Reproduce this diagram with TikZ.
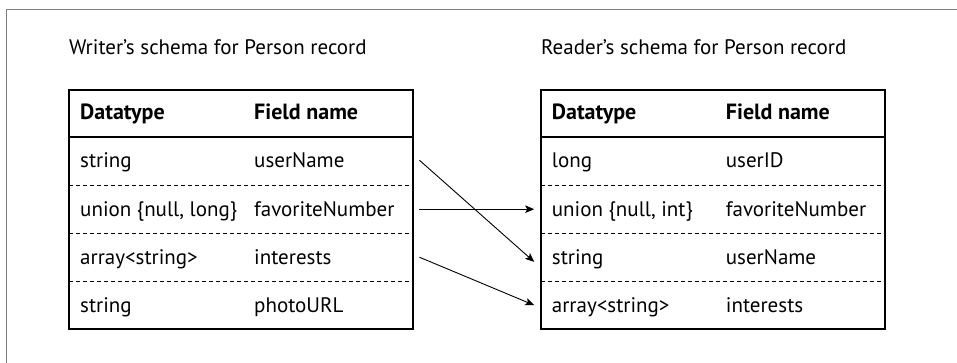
\documentclass[tikz,border=0pt]{standalone}
\usepackage{fontspec}
\setmainfont{PT Sans}
\usetikzlibrary{arrows.meta,calc}
\tikzset{
  rowbox/.style={draw=none,minimum width=344pt,minimum height=48pt,inner sep=0pt,anchor=north west},
  txt/.style={inner sep=0pt,anchor=base west,font=\fontsize{21}{24}\selectfont},
  hdr/.style={txt,font=\fontsize{22}{25}\selectfont\bfseries},
  tblframe/.style={line width=2pt},
  rowsep/.style={line width=0.9pt,dash pattern=on 4pt off 3pt},
  arr/.style={line width=0.9pt,-{Stealth[length=9pt,width=7.5pt,inset=2pt]}},
  outer/.style={draw=black!50,line width=1pt}
}
\begin{document}
\begin{tikzpicture}[x=1pt,y=-1pt]
\useasboundingbox (0,0) rectangle (957,363);
\draw[outer] (6.5,363) -- (6.5,9.5) -- (957,9.5);

% titles
\node[txt] (wtitle) at (69,55) {Writer’s schema for Person record};
\node[txt] (rtitle) at (541,55) {Reader’s schema for Person record};

% ---------- writer table ----------
\node[rowbox,minimum height=47pt] (wh) at (69,90) {};
\node[rowbox] (w1) at (69,137) {};
\node[rowbox] (w2) at (69,185) {};
\node[rowbox] (w3) at (69,233) {};
\node[rowbox] (w4) at (69,281) {};
\draw[tblframe] (wh.north west) rectangle (w4.south east);
\draw[tblframe] (wh.south west) -- (wh.south east);
\draw[rowsep] (w1.south west) -- (w1.south east);
\draw[rowsep] (w2.south west) -- (w2.south east);
\draw[rowsep] (w3.south west) -- (w3.south east);

\node[hdr] (wh1) at (80,120) {Datatype};
\node[hdr] (wh2) at (254,120) {Field name};
\node[txt] (w1a) at (80,168) {string};
\node[txt] (w1b) at (254,168) {userName};
\node[txt] (w2a) at (80,216) {union \{null, long\}};
\node[txt] (w2b) at (254,216) {favoriteNumber};
\node[txt] (w3a) at (80,264) {array<string>};
\node[txt] (w3b) at (254,264) {interests};
\node[txt] (w4a) at (80,312) {string};
\node[txt] (w4b) at (254,312) {photoURL};

% ---------- reader table ----------
\node[rowbox,minimum height=47pt] (rh) at (540.7,90) {};
\node[rowbox] (r1) at (540.7,137) {};
\node[rowbox] (r2) at (540.7,185) {};
\node[rowbox] (r3) at (540.7,233) {};
\node[rowbox] (r4) at (540.7,281) {};
\draw[tblframe] (rh.north west) rectangle (r4.south east);
\draw[tblframe] (rh.south west) -- (rh.south east);
\draw[rowsep] (r1.south west) -- (r1.south east);
\draw[rowsep] (r2.south west) -- (r2.south east);
\draw[rowsep] (r3.south west) -- (r3.south east);

\node[hdr] (rh1) at (551.7,120) {Datatype};
\node[hdr] (rh2) at (725.7,120) {Field name};
\node[txt] (r1a) at (551.7,168) {long};
\node[txt] (r1b) at (725.7,168) {userID};
\node[txt] (r2a) at (551.7,216) {union \{null, int\}};
\node[txt] (r2b) at (725.7,216) {favoriteNumber};
\node[txt] (r3a) at (551.7,264) {string};
\node[txt] (r3b) at (725.7,264) {userName};
\node[txt] (r4a) at (551.7,312) {array<string>};
\node[txt] (r4b) at (725.7,312) {interests};

% ---------- connectors ----------
\draw[arr] ([xshift=6pt,yshift=1pt]w1.east) -- ([xshift=-6.5pt,yshift=-4.7pt]r3.west);
\draw[arr] ([xshift=6pt]w2.east) -- ([xshift=-6.5pt]r2.west);
\draw[arr] ([xshift=6pt]w3.east) -- ([xshift=-6.5pt]r4.west);
\end{tikzpicture}
\end{document}
